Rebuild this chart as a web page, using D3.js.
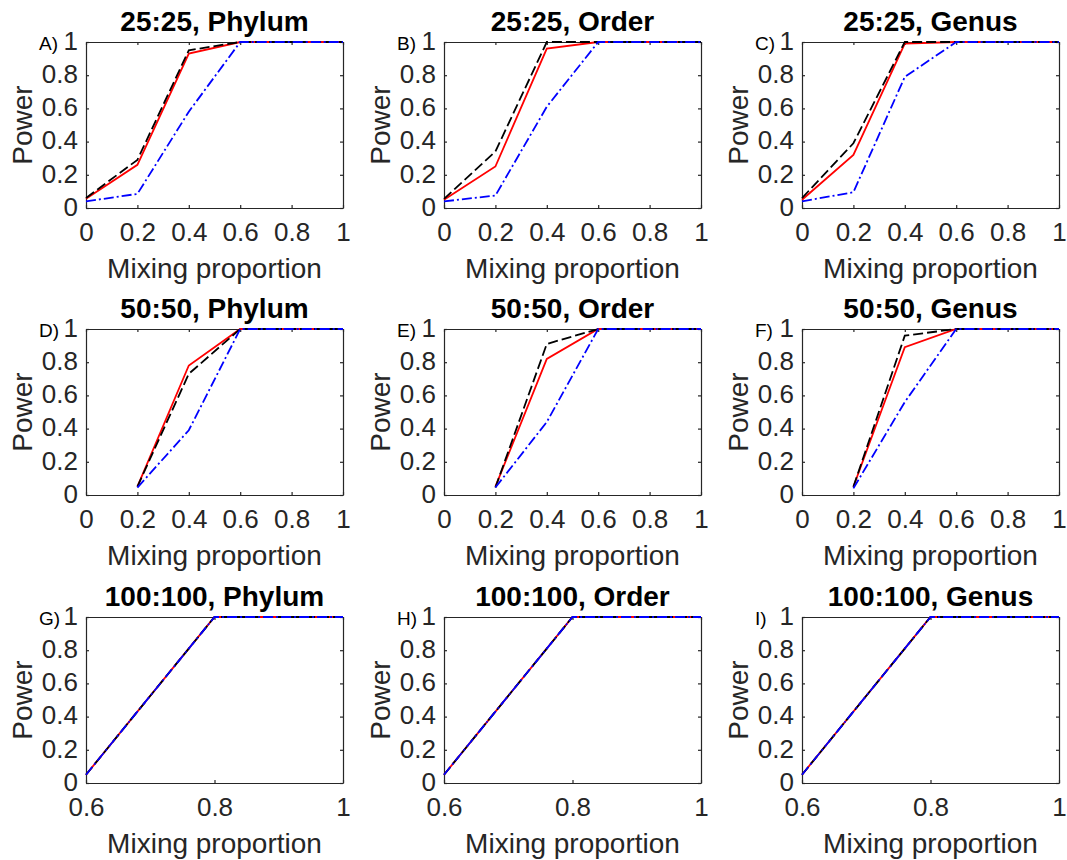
<!DOCTYPE html>
<html>
<head>
<meta charset="utf-8">
<script src="https://cdn.jsdelivr.net/npm/d3@7"></script>
<style>
  html, body { margin: 0; padding: 0; background: #fff; }
  svg { display: block; }
  text { font-family: "Liberation Sans", Arial, Helvetica, sans-serif; }
</style>
</head>
<body>
<svg id="chart" width="1067" height="860"></svg>
<script>
// Mixing proportions evaluated in each row of panels
const xRow1 = [0, 0.2, 0.4, 0.6, 0.8, 1];
const xRow2 = [0.2, 0.4, 0.6, 0.8, 1];
const xRow3 = [0.6, 0.8, 1];

// Axis tick values
const yTicks = [0, 0.2, 0.4, 0.6, 0.8, 1];
const xTicksWide = [0, 0.2, 0.4, 0.6, 0.8, 1];
const xTicksNarrow = [0.6, 0.8, 1];

// Panel titles and letters
const panelTitles = [
  "25:25, Phylum", "25:25, Order", "25:25, Genus",
  "50:50, Phylum", "50:50, Order", "50:50, Genus",
  "100:100, Phylum", "100:100, Order", "100:100, Genus"
];
const panelLetters = ["A)", "B)", "C)", "D)", "E)", "F)", "G)", "H)", "I)"];

// Power curves: solid red, dashed black, dash-dot blue (one row per panel)
const powerSolid = [
  [0.055, 0.26, 0.93, 1, 1, 1],
  [0.05, 0.25, 0.96, 1, 1, 1],
  [0.05, 0.32, 0.99, 1, 1, 1],
  [0.05, 0.78, 1, 1, 1],
  [0.05, 0.82, 1, 1, 1],
  [0.05, 0.89, 1, 1, 1],
  [0.05, 1, 1],
  [0.05, 1, 1],
  [0.05, 1, 1]
];
const powerDashed = [
  [0.06, 0.29, 0.95, 1, 1, 1],
  [0.055, 0.34, 1, 1, 1, 1],
  [0.06, 0.39, 1, 1, 1, 1],
  [0.05, 0.73, 1, 1, 1],
  [0.045, 0.91, 1, 1, 1],
  [0.05, 0.96, 1, 1, 1],
  [0.05, 1, 1],
  [0.05, 1, 1],
  [0.05, 1, 1]
];
const powerDashDot = [
  [0.04, 0.085, 0.58, 1, 1, 1],
  [0.04, 0.075, 0.61, 1, 1, 1],
  [0.04, 0.095, 0.79, 1, 1, 1],
  [0.045, 0.39, 1, 1, 1],
  [0.045, 0.44, 1, 1, 1],
  [0.04, 0.56, 1, 1, 1],
  [0.05, 1, 1],
  [0.05, 1, 1],
  [0.05, 1, 1]
];

const rowX = [xRow1, xRow2, xRow3];
const rowXDomain = [[0, 1], [0, 1], [0.6, 1]];
const rowXTicks = [xTicksWide, xTicksWide, xTicksNarrow];

// Layout of the 3x3 grid
const colLeft = [86, 444, 802];
const rowTop = [42, 329, 617];
const pw = 257, ph = 166;
const axisColor = "#262626";
const tickFont = 26, labelFont = 28, titleFont = 28;

const svg = d3.select("#chart");
const fmt = d => (d === 0 || d === 1) ? String(d) : d3.format(".1f")(d);

const seriesStyles = [
  { data: powerSolid, color: "#ff0000", dash: null },
  { data: powerDashed, color: "#000000", dash: "10,4" },
  { data: powerDashDot, color: "#0000ff", dash: "10,3,2,3" }
];

panelTitles.forEach((title, i) => {
  const r = Math.floor(i / 3), c = i % 3;
  const g = svg.append("g").attr("transform", `translate(${colLeft[c]},${rowTop[r]})`);

  const x = d3.scaleLinear().domain(rowXDomain[r]).range([0, pw]);
  const y = d3.scaleLinear().domain([0, 1]).range([ph, 0]);

  // Axes with inward ticks on all four sides (boxed)
  const bottom = g.append("g").attr("transform", `translate(0,${ph})`)
    .call(d3.axisBottom(x).tickValues(rowXTicks[r]).tickFormat(fmt).tickSizeInner(-3).tickSizeOuter(0).tickPadding(18));
  const left = g.append("g")
    .call(d3.axisLeft(y).tickValues(yTicks).tickFormat(fmt).tickSizeInner(-3).tickSizeOuter(0).tickPadding(8));
  const top = g.append("g")
    .call(d3.axisTop(x).tickValues(rowXTicks[r]).tickFormat("").tickSizeInner(-3).tickSizeOuter(0));
  const right = g.append("g").attr("transform", `translate(${pw},0)`)
    .call(d3.axisRight(y).tickValues(yTicks).tickFormat("").tickSizeInner(-3).tickSizeOuter(0));

  [bottom, left, top, right].forEach(a => {
    a.selectAll(".domain").attr("stroke", axisColor).attr("stroke-width", 1.2);
    a.selectAll(".tick line").attr("stroke", axisColor).attr("stroke-width", 1.2);
    a.selectAll(".tick text").attr("fill", axisColor).attr("font-size", tickFont)
      .style("font-family", '"Liberation Sans", Arial, Helvetica, sans-serif');
  });
  left.selectAll(".tick text").attr("dy", "0.28em");
  bottom.selectAll(".tick text").attr("y", 15);

  // Curves
  const line = d3.line().x((d, k) => x(rowX[r][k])).y(d => y(d));
  seriesStyles.forEach(s => {
    g.append("path")
      .datum(s.data[i])
      .attr("fill", "none")
      .attr("stroke", s.color)
      .attr("stroke-width", 1.8)
      .attr("stroke-dasharray", s.dash)
      .attr("d", line);
  });

  // Title
  g.append("text")
    .attr("x", pw / 2).attr("y", -11)
    .attr("text-anchor", "middle")
    .attr("font-size", titleFont).attr("font-weight", "bold").attr("fill", "#000")
    .text(title);

  // Axis labels
  g.append("text")
    .attr("x", pw / 2).attr("y", ph + 70)
    .attr("text-anchor", "middle")
    .attr("font-size", labelFont).attr("fill", axisColor)
    .text("Mixing proportion");
  g.append("text")
    .attr("transform", `translate(-54,${ph / 2}) rotate(-90)`)
    .attr("text-anchor", "middle")
    .attr("font-size", labelFont).attr("fill", axisColor)
    .text("Power");

  // Panel letter
  g.append("text")
    .attr("x", -47).attr("y", 8)
    .attr("font-size", 19).attr("fill", "#000")
    .text(panelLetters[i]);
});
</script>
</body>
</html>
